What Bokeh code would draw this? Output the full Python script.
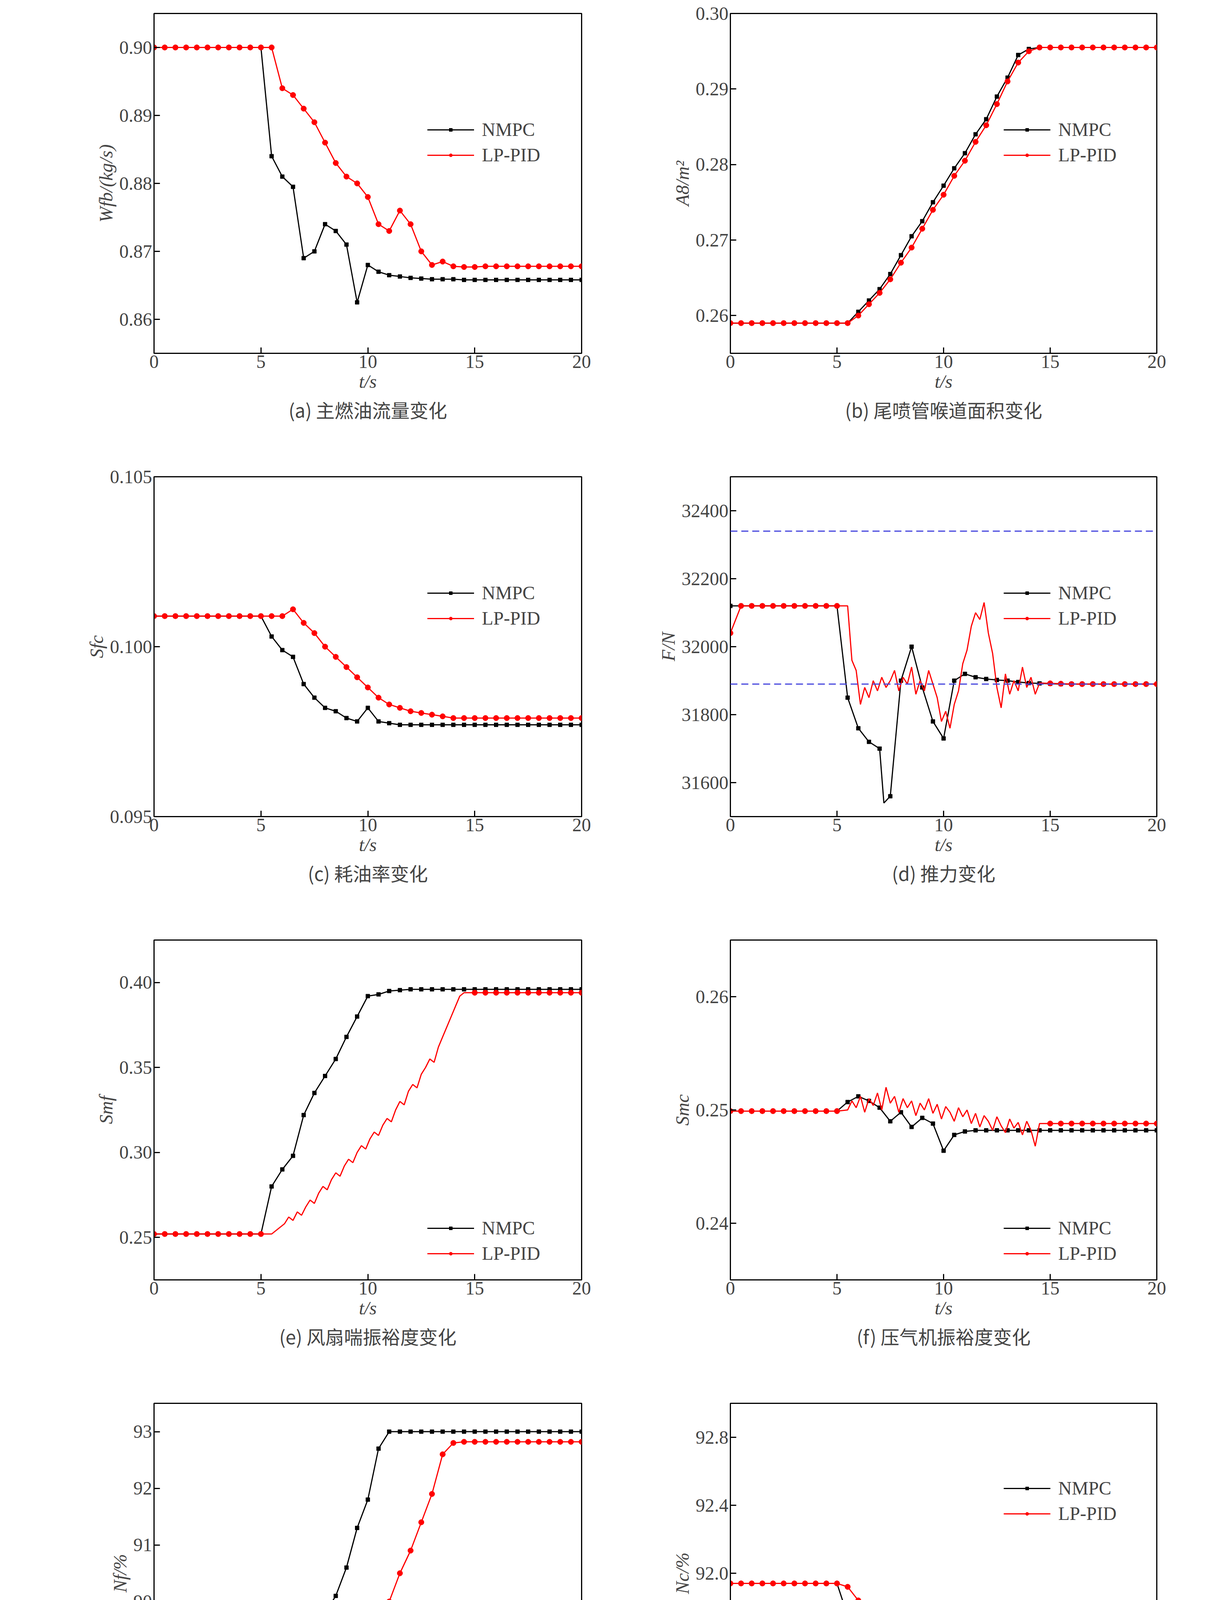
import numpy as np
from bokeh.plotting import figure
from bokeh.layouts import gridplot
from bokeh.models import FixedTicker, Span, Title, Legend, LegendItem, NumeralTickFormatter
from bokeh.embed import file_html
from bokeh.resources import INLINE

T05 = [i * 0.5 for i in range(41)]

# (a) main fuel flow
a_nmpc = [0.90]*10 + [0.900, 0.884, 0.881, 0.8795, 0.869, 0.870, 0.874, 0.873, 0.871, 0.8625, 0.868, 0.867, 0.8665, 0.8663, 0.8661,
          0.8660, 0.8659, 0.8659, 0.8659, 0.8658, 0.8658, 0.8658, 0.8658, 0.8658, 0.8658, 0.8658, 0.8658, 0.8658, 0.8658, 0.8658, 0.8658]
a_pid = [0.90]*12 + [0.894, 0.893, 0.891, 0.889, 0.886, 0.883, 0.881, 0.880, 0.878, 0.874, 0.873, 0.876, 0.874, 0.870, 0.868, 0.8685, 0.8678,
         0.8677, 0.8677, 0.8678, 0.8678, 0.8678, 0.8678, 0.8678, 0.8678, 0.8678, 0.8678, 0.8678, 0.8678]
# (b) nozzle throat area
b_nmpc = [0.259]*12 + [0.2605, 0.262, 0.2635, 0.2655, 0.268, 0.2705, 0.2725, 0.275, 0.2772, 0.2795, 0.2815, 0.284, 0.286, 0.289, 0.2915, 0.2945, 0.2953] + [0.2955]*12
b_pid = [0.259]*12 + [0.260, 0.2615, 0.263, 0.2648, 0.267, 0.269, 0.2715, 0.274, 0.276, 0.2785, 0.2805, 0.283, 0.2852, 0.288, 0.291, 0.2935, 0.295] + [0.2955]*12
# (c) specific fuel consumption
c_nmpc = [0.1009]*11 + [0.1003, 0.0999, 0.0997, 0.0989, 0.0985, 0.0982, 0.0981, 0.0979, 0.0978, 0.0982, 0.0978, 0.09775] + [0.0977]*18
c_pid = [0.1009]*13 + [0.1011, 0.1007, 0.1004, 0.1000, 0.0997, 0.0994, 0.0991, 0.0988, 0.0985, 0.0983, 0.0982, 0.0981, 0.09805, 0.0980, 0.09795, 0.0979] + [0.0979]*12
# (d) thrust
d_nmpc = [32120]*11 + [31850, 31760, 31720, 31700, 31560, 31900, 32000, 31880, 31780, 31730, 31900, 31920, 31910, 31905, 31902, 31900, 31896, 31893,
          31892, 31891, 31890, 31890, 31890, 31890, 31890, 31890, 31890, 31890, 31890, 31890]
d_nmpc_t = T05[:15] + [7.2] + T05[15:]
d_nmpc = d_nmpc[:15] + [31540] + d_nmpc[15:]
d_pid_head = [32040, 32120, 32120, 32120, 32120, 32120, 32120, 32120, 32120, 32120, 32120]
d_pid_noise = [32120, 31960, 31930, 31830, 31880, 31850, 31900, 31870, 31910, 31880, 31900, 31930, 31870, 31910, 31890, 31940, 31860, 31900,
               31870, 31930, 31890, 31850, 31780, 31810, 31760, 31830, 31870, 31950, 31990, 32060, 32100, 32080, 32130, 32040, 31980, 31880,
               31820, 31920, 31860, 31900, 31870, 31940, 31880, 31910, 31860, 31893]
d_pid_tail = [31892, 31891, 31890, 31890, 31890, 31890, 31890, 31890, 31890, 31890, 31890]
d_limits = [32340, 31890]
# (e) fan surge margin
e_nmpc = [0.252]*11 + [0.280, 0.290, 0.298, 0.322, 0.335, 0.345, 0.355, 0.368, 0.380, 0.392, 0.393, 0.395, 0.3955] + [0.396]*17
e_pid_head = [0.252]*11
e_pid_noise = [0.252, 0.254, 0.256, 0.258, 0.262, 0.260, 0.265, 0.263, 0.268, 0.272, 0.270, 0.276, 0.280, 0.278, 0.284, 0.288, 0.286, 0.292,
               0.296, 0.294, 0.300, 0.304, 0.302, 0.308, 0.312, 0.310, 0.316, 0.320, 0.318, 0.325, 0.330, 0.328, 0.336, 0.340, 0.338, 0.346,
               0.350, 0.355, 0.353, 0.362, 0.368, 0.374, 0.380, 0.386, 0.392, 0.394]
e_pid_tail = [0.394]*11
# (f) compressor surge margin
f_nmpc = [0.2499]*11 + [0.2507, 0.2512, 0.2508, 0.2502, 0.2490, 0.2498, 0.2485, 0.2493, 0.2488, 0.2464, 0.2478, 0.2481] + [0.2482]*18
f_pid_head = [0.2499]*11
f_pid_noise = [0.2500, 0.2508, 0.2502, 0.2512, 0.2498, 0.2510, 0.2504, 0.2515, 0.2500, 0.2520, 0.2506, 0.2512, 0.2498, 0.2510, 0.2502, 0.2508,
               0.2495, 0.2506, 0.2500, 0.2510, 0.2497, 0.2505, 0.2492, 0.2503, 0.2498, 0.2490, 0.2502, 0.2494, 0.2500, 0.2488, 0.2497, 0.2485,
               0.2495, 0.2490, 0.2482, 0.2494, 0.2486, 0.2480, 0.2492, 0.2484, 0.2489, 0.2478, 0.2490, 0.2482, 0.2468, 0.2488]
f_pid_tail = [0.2488]*11
# (g) fan speed
g_nmpc = [88.08]*11 + [88.35, 88.5, 88.7, 88.95, 89.4, 89.8, 90.1, 90.6, 91.3, 91.8, 92.7, 93.0] + [93.0]*18
g_pid = [88.08]*12 + [87.98, 88.1, 88.3, 88.5, 88.7, 88.9, 89.1, 89.25, 89.45, 89.7, 90.0, 90.5, 90.9, 91.4, 91.9, 92.6, 92.8] + [92.82]*12
# (h) compressor speed
h_nmpc = [91.94]*11 + [91.75, 91.62, 91.6, 91.5, 91.46, 91.55, 91.58, 91.52, 91.52, 91.5, 91.7, 91.75] + [91.75]*18
h_pid = [91.94]*11 + [91.92, 91.84, 91.78, 91.72, 91.68, 91.64, 91.6, 91.57, 91.55, 91.48, 91.5, 91.52, 91.54, 91.55, 91.53, 91.56, 91.62, 91.7, 91.72] + [91.7]*11


def noisy_series(head, noise, tail):
    t = [i*0.5 for i in range(len(head))] + [5.5 + 0.2*i for i in range(len(noise))] + [15.0 + 0.5*i for i in range(len(tail))]
    return t, head + noise + tail, len(head), len(head) + len(noise)

SERIF = "Liberation Serif"
FS = "48px"

def panel(col, row, ylabel, yr, yticks, fmt, nmpc, pid, caption, leg, limits=None):
    bl = 394 if col == 0 else 311
    br = 70 if col == 0 else 164
    bb = 282 if row < 3 else 190
    p = figure(frame_width=1095 if col == 0 else 1092, frame_height=870, x_range=(0, 20), y_range=yr,
               output_backend="svg", toolbar_location=None, min_border_left=bl, min_border_right=br,
               min_border_top=34, min_border_bottom=bb)
    p.grid.visible = False
    p.outline_line_color = "black"
    p.outline_line_width = 3
    for ax in (p.xaxis[0], p.yaxis[0]):
        ax.major_tick_in = 15
        ax.major_tick_out = 0
        ax.minor_tick_in = 0
        ax.minor_tick_out = 0
        ax.axis_line_width = 3
        ax.major_tick_line_width = 3
        ax.major_label_text_font = SERIF
        ax.major_label_text_font_size = FS
        ax.axis_label_text_font = SERIF
        ax.axis_label_text_font_size = FS
        ax.axis_label_text_font_style = "italic"
    p.xaxis.ticker = FixedTicker(ticks=[0, 5, 10, 15, 20])
    p.yaxis.ticker = FixedTicker(ticks=yticks)
    p.yaxis.formatter = NumeralTickFormatter(format=fmt)
    p.xaxis.axis_label = "t/s"
    p.yaxis.axis_label = ylabel
    if limits:
        for v in limits:
            p.add_layout(Span(location=v, dimension="width", line_color="#4444dd", line_dash="18 10", line_width=3))
    items = []
    for name, (t, y, m0, m1), color in (("NMPC", nmpc, "black"), ("LP-PID", pid, "red")):
        r1 = p.line(t, y, line_color=color, line_width=3)
        mt = [tt for i, tt in enumerate(t) if (i < m0 or i >= m1) and abs(tt*2 - round(tt*2)) < 1e-6]
        my = [yy for i, (tt, yy) in enumerate(zip(t, y)) if (i < m0 or i >= m1) and abs(tt*2 - round(tt*2)) < 1e-6]
        size = 10 if color == "black" else 14
        r2 = p.scatter(mt, my, marker="circle" if color == "red" else "square", size=size, color=color)
        items.append(LegendItem(label=name, renderers=[r1, r2]))
    lg = Legend(items=items, location=leg, border_line_color=None, background_fill_alpha=0,
                label_text_font=SERIF, label_text_font_size=FS, glyph_width=120, spacing=10, label_standoff=20)
    p.add_layout(lg)
    p.add_layout(Title(text=caption, align="center", text_font="Noto Sans CJK SC", text_font_size=FS,
                       text_font_style="normal", standoff=10), "below")
    return p

def simple(t, y):
    return (t, y, len(y), len(y))

TOP = (700, 480)
BOT = (700, 40)
plots = [
    panel(0, 0, "Wfb/(kg/s)", (0.855, 0.905), [0.86, 0.87, 0.88, 0.89, 0.90], "0.00",
          simple(T05, a_nmpc), simple(T05, a_pid), "(a) 主燃油流量变化", TOP),
    panel(1, 0, "A8/m²", (0.255, 0.30), [0.26, 0.27, 0.28, 0.29, 0.30], "0.00",
          simple(T05, b_nmpc), simple(T05, b_pid), "(b) 尾喷管喉道面积变化", TOP),
    panel(0, 1, "Sfc", (0.095, 0.105), [0.095, 0.100, 0.105], "0.000",
          simple(T05, c_nmpc), simple(T05, c_pid), "(c) 耗油率变化", TOP),
    panel(1, 1, "F/N", (31500, 32500), [31600, 31800, 32000, 32200, 32400], "0",
          simple(d_nmpc_t, d_nmpc), noisy_series(d_pid_head, d_pid_noise, d_pid_tail), "(d) 推力变化", TOP, d_limits),
    panel(0, 2, "Smf", (0.225, 0.425), [0.25, 0.30, 0.35, 0.40], "0.00",
          simple(T05, e_nmpc), noisy_series(e_pid_head, e_pid_noise, e_pid_tail), "(e) 风扇喘振裕度变化", BOT),
    panel(1, 2, "Smc", (0.235, 0.265), [0.24, 0.25, 0.26], "0.00",
          simple(T05, f_nmpc), noisy_series(f_pid_head, f_pid_noise, f_pid_tail), "(f) 压气机振裕度变化", BOT),
    panel(0, 3, "Nf/%", (87.5, 93.5), [88, 89, 90, 91, 92, 93], "0",
          simple(T05, g_nmpc), simple(T05, g_pid), "(g) 风扇转子转速变化", BOT),
    panel(1, 3, "Nc/%", (91.0, 93.0), [91.2, 91.6, 92.0, 92.4, 92.8], "0.0",
          simple(T05, h_nmpc), simple(T05, h_pid), "(h) 压气机转子转速变化", (700, 560)),
]

grid = gridplot([plots[0:2], plots[2:4], plots[4:6], plots[6:8]], toolbar_location=None)
open("out.html", "w").write(file_html(grid, INLINE))
